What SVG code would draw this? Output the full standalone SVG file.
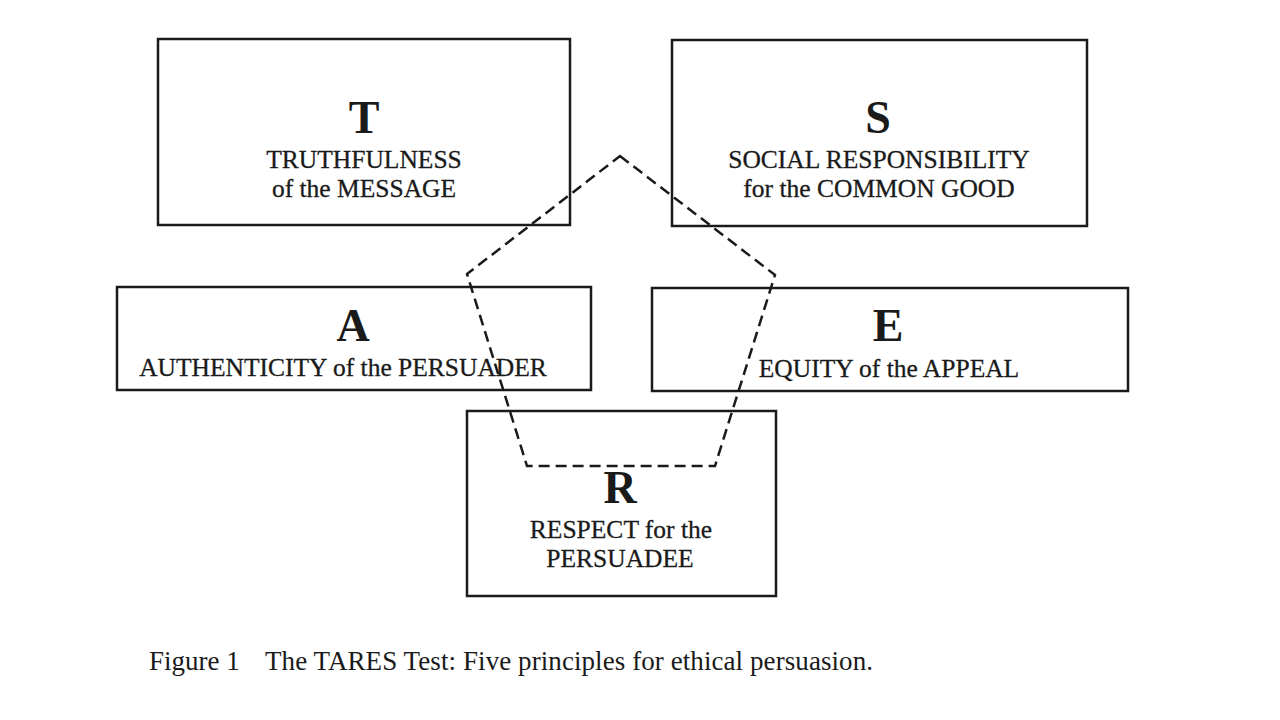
<svg xmlns="http://www.w3.org/2000/svg" width="1280" height="720" viewBox="0 0 1280 720">
<style>
.box{fill:none;stroke:#1a1a1a;stroke-width:2.5}
.big{font-family:"Liberation Serif",serif;font-weight:bold;font-size:46px;fill:#1a1a1a;text-anchor:middle}
.lbl{font-family:"Liberation Serif",serif;font-size:25.5px;fill:#1a1a1a;text-anchor:middle;stroke:#1a1a1a;stroke-width:0.3}
.cap{font-family:"Liberation Serif",serif;font-size:27px;fill:#1a1a1a}
.pent{fill:none;stroke:#1a1a1a;stroke-width:2.5;stroke-dasharray:11 6}
</style>
<rect width="1280" height="720" fill="#fff"/>
<g id="T">
<rect class="box" x="158" y="39" width="412" height="186"/>
<text class="big" x="364" y="133">T</text>
<text class="lbl" x="364" y="168">TRUTHFULNESS</text>
<text class="lbl" x="364" y="197">of the MESSAGE</text>
</g>
<g id="S">
<rect class="box" x="672" y="40" width="415" height="186"/>
<text class="big" x="878" y="133">S</text>
<text class="lbl" x="879" y="168">SOCIAL RESPONSIBILITY</text>
<text class="lbl" x="879" y="197">for the COMMON GOOD</text>
</g>
<g id="A">
<rect class="box" x="117" y="287" width="474" height="103"/>
<text class="big" x="353" y="341">A</text>
<text class="lbl" x="343" y="376">AUTHENTICITY of the PERSUADER</text>
</g>
<g id="E">
<rect class="box" x="652" y="288" width="476" height="103"/>
<text class="big" x="888" y="341">E</text>
<text class="lbl" x="889" y="377">EQUITY of the APPEAL</text>
</g>
<g id="R">
<rect class="box" x="467" y="411" width="309" height="185"/>
<text class="big" x="620" y="503">R</text>
<text class="lbl" x="621" y="538">RESPECT for the</text>
<text class="lbl" x="620" y="567">PERSUADEE</text>
</g>
<g id="connectors">
<polygon class="pent" points="620,156 775,275 715,466 527,466 467,274"/>
</g>
<text class="cap" x="149" y="670">Figure 1<tspan x="265" textLength="608" lengthAdjust="spacing">The TARES Test: Five principles for ethical persuasion.</tspan></text>
</svg>
